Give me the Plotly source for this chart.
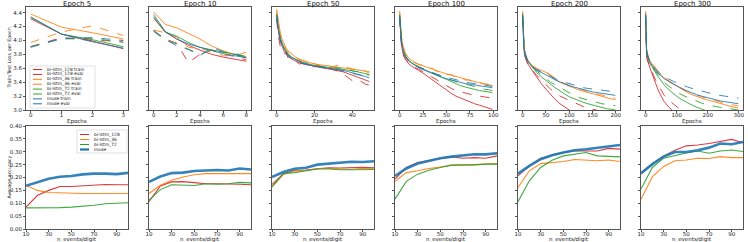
import plotly.graph_objects as go

W, H = 748, 242

# ---------------- data ----------------
epoch_titles = ["Epoch 5", "Epoch 10", "Epoch 50", "Epoch 100", "Epoch 200", "Epoch 300"]
series_names = ["bi-lstm_128", "bi-lstm_36", "bi-lstm_72", "inode"]
colors = {"bi-lstm_128": "#d62728", "bi-lstm_36": "#ff7f0e", "bi-lstm_72": "#2ca02c", "inode": "#1f77b4"}

# Top row: loss curves (train / eval) per run length
x_e5 = [0, 1, 2, 3]
e5 = {
    "bi-lstm_128": ([4.31, 4.09, 3.99, 3.88], [3.91, 4.04, 4.00, 3.99]),
    "bi-lstm_36": ([4.38, 4.19, 4.11, 4.02], [3.97, 4.12, 4.21, 4.07]),
    "bi-lstm_72": ([4.34, 4.09, 4.01, 3.91], [3.91, 4.02, 4.03, 3.97]),
    "inode": ([4.33, 4.09, 3.98, 3.89], [3.90, 4.03, 4.04, 4.00]),
}

x_e10 = [0, 1, 2, 3, 4, 5, 6, 7, 8]
e10 = {
    "bi-lstm_128": ([4.32, 4.12, 4.02, 3.93, 3.86, 3.80, 3.76, 3.73, 3.70],
                    [4.14, 4.02, 3.96, 3.68, 3.80, 3.86, 3.80, 3.77, 3.72]),
    "bi-lstm_36": ([4.41, 4.23, 4.18, 4.10, 4.02, 3.92, 3.85, 3.80, 3.77],
                   [4.15, 4.11, 4.05, 3.90, 3.88, 3.85, 3.78, 3.78, 3.83]),
    "bi-lstm_72": ([4.34, 4.12, 4.06, 3.97, 3.90, 3.86, 3.83, 3.80, 3.75],
                   [4.13, 4.00, 3.95, 3.88, 3.80, 3.86, 3.83, 3.82, 3.76]),
    "inode": ([4.37, 4.13, 4.02, 3.95, 3.90, 3.85, 3.81, 3.78, 3.75],
              [4.14, 4.02, 3.92, 3.87, 3.78, 3.90, 3.84, 3.80, 3.76]),
}

x_e50 = [0, 1, 2, 3, 4, 5, 6, 8, 10, 12, 14, 16, 18, 20, 23, 26, 29, 32, 35, 38, 41, 44, 47, 49]
e50 = {
    "bi-lstm_128": ([4.36, 4.12, 3.98, 3.90, 3.84, 3.80, 3.77, 3.73, 3.70, 3.68, 3.66, 3.65, 3.63, 3.62, 3.61, 3.60, 3.58, 3.57, 3.55, 3.52, 3.49, 3.46, 3.43, 3.41],
                    [4.30, 4.05, 3.90, 3.85, 3.80, 3.83, 3.75, 3.74, 3.71, 3.66, 3.68, 3.64, 3.65, 3.62, 3.63, 3.59, 3.60, 3.56, 3.52, 3.46, 3.40, 3.42, 3.37, 3.36]),
    "bi-lstm_36": ([4.45, 4.24, 4.10, 4.01, 3.94, 3.89, 3.85, 3.80, 3.76, 3.73, 3.71, 3.69, 3.68, 3.66, 3.65, 3.64, 3.63, 3.62, 3.61, 3.60, 3.59, 3.58, 3.56, 3.55],
                   [4.42, 4.20, 4.08, 3.98, 3.93, 3.86, 3.84, 3.78, 3.75, 3.72, 3.70, 3.70, 3.66, 3.67, 3.63, 3.66, 3.62, 3.64, 3.60, 3.61, 3.58, 3.59, 3.55, 3.53]),
    "bi-lstm_72": ([4.38, 4.16, 4.03, 3.95, 3.89, 3.85, 3.81, 3.76, 3.73, 3.70, 3.68, 3.67, 3.65, 3.64, 3.63, 3.62, 3.61, 3.60, 3.59, 3.58, 3.56, 3.54, 3.52, 3.51],
                   [4.35, 4.13, 4.02, 3.93, 3.86, 3.84, 3.80, 3.75, 3.72, 3.71, 3.67, 3.68, 3.64, 3.65, 3.62, 3.63, 3.60, 3.61, 3.58, 3.59, 3.55, 3.56, 3.51, 3.50]),
    "inode": ([4.37, 4.14, 4.01, 3.93, 3.87, 3.83, 3.79, 3.75, 3.72, 3.69, 3.67, 3.66, 3.64, 3.63, 3.62, 3.61, 3.60, 3.59, 3.57, 3.55, 3.53, 3.51, 3.48, 3.46],
              [4.32, 4.10, 3.99, 3.91, 3.85, 3.82, 3.78, 3.74, 3.71, 3.69, 3.67, 3.65, 3.64, 3.62, 3.62, 3.60, 3.60, 3.58, 3.56, 3.55, 3.52, 3.51, 3.48, 3.47]),
}

x_e100 = [0, 1, 2, 3, 4, 6, 8, 10, 13, 16, 20, 25, 30, 35, 40, 45, 50, 55, 60, 65, 70, 75, 80, 85, 90, 95, 99]
e100 = {
    "bi-lstm_128": ([4.35, 4.08, 3.93, 3.85, 3.79, 3.73, 3.69, 3.66, 3.63, 3.60, 3.57, 3.53, 3.48, 3.43, 3.38, 3.33, 3.28, 3.24, 3.20, 3.17, 3.14, 3.11, 3.09, 3.07, 3.05, 3.03, 3.01],
                    [4.31, 4.05, 3.92, 3.84, 3.79, 3.74, 3.70, 3.67, 3.64, 3.61, 3.59, 3.55, 3.51, 3.46, 3.42, 3.38, 3.34, 3.31, 3.28, 3.26, 3.24, 3.22, 3.21, 3.20, 3.19, 3.18, 3.17]),
    "bi-lstm_36": ([4.42, 4.20, 4.05, 3.96, 3.90, 3.82, 3.78, 3.74, 3.71, 3.68, 3.66, 3.63, 3.61, 3.59, 3.56, 3.54, 3.52, 3.50, 3.48, 3.46, 3.44, 3.42, 3.40, 3.39, 3.38, 3.36, 3.35],
                   [4.40, 4.18, 4.04, 3.95, 3.88, 3.81, 3.77, 3.74, 3.70, 3.69, 3.65, 3.64, 3.60, 3.60, 3.55, 3.55, 3.51, 3.51, 3.47, 3.47, 3.43, 3.43, 3.39, 3.40, 3.37, 3.37, 3.34]),
    "bi-lstm_72": ([4.37, 4.13, 3.99, 3.91, 3.85, 3.78, 3.74, 3.71, 3.68, 3.65, 3.62, 3.59, 3.56, 3.52, 3.49, 3.46, 3.43, 3.40, 3.38, 3.35, 3.33, 3.31, 3.29, 3.28, 3.27, 3.26, 3.25],
                   [4.34, 4.11, 3.98, 3.90, 3.84, 3.78, 3.74, 3.71, 3.68, 3.66, 3.62, 3.60, 3.57, 3.54, 3.51, 3.48, 3.46, 3.43, 3.41, 3.39, 3.37, 3.35, 3.33, 3.32, 3.30, 3.29, 3.28]),
    "inode": ([4.36, 4.12, 3.98, 3.90, 3.84, 3.77, 3.73, 3.70, 3.67, 3.64, 3.61, 3.58, 3.55, 3.52, 3.49, 3.47, 3.45, 3.43, 3.41, 3.40, 3.38, 3.37, 3.36, 3.35, 3.34, 3.33, 3.32],
              [4.33, 4.10, 3.97, 3.89, 3.83, 3.77, 3.73, 3.70, 3.67, 3.64, 3.62, 3.59, 3.56, 3.54, 3.51, 3.49, 3.47, 3.45, 3.43, 3.42, 3.40, 3.39, 3.38, 3.37, 3.36, 3.35, 3.34]),
}

x_e200 = [0, 1, 2, 3, 5, 7, 10, 13, 16, 20, 25, 30, 40, 50, 60, 70, 80, 90, 100, 110, 120, 130, 140, 150, 160, 170, 180, 190, 199]
e200 = {
    "bi-lstm_128": ([4.33, 4.06, 3.92, 3.85, 3.77, 3.72, 3.68, 3.64, 3.61, 3.57, 3.52, 3.47, 3.38, 3.30, 3.22, 3.15, 3.09, 3.04, 3.00, 2.96, 2.93, 2.90, 2.87, 2.85, 2.83, 2.81, 2.79, 2.77, 2.76],
                    [4.30, 4.04, 3.91, 3.84, 3.77, 3.72, 3.68, 3.65, 3.62, 3.58, 3.54, 3.50, 3.43, 3.36, 3.30, 3.25, 3.20, 3.17, 3.14, 3.10, 3.07, 3.05, 3.03, 3.01, 2.99, 2.97, 2.96, 2.95, 2.94]),
    "bi-lstm_36": ([4.42, 4.15, 4.00, 3.92, 3.83, 3.78, 3.73, 3.70, 3.67, 3.64, 3.61, 3.59, 3.57, 3.54, 3.49, 3.44, 3.40, 3.37, 3.34, 3.31, 3.29, 3.27, 3.25, 3.23, 3.21, 3.19, 3.18, 3.16, 3.15],
                   [4.40, 4.14, 3.99, 3.92, 3.82, 3.78, 3.73, 3.71, 3.68, 3.64, 3.62, 3.60, 3.56, 3.55, 3.50, 3.45, 3.41, 3.38, 3.35, 3.33, 3.31, 3.28, 3.26, 3.25, 3.23, 3.21, 3.20, 3.18, 3.17]),
    "bi-lstm_72": ([4.37, 4.11, 3.96, 3.89, 3.80, 3.75, 3.71, 3.68, 3.65, 3.62, 3.58, 3.54, 3.48, 3.42, 3.37, 3.32, 3.27, 3.23, 3.19, 3.16, 3.13, 3.11, 3.09, 3.07, 3.05, 3.04, 3.02, 3.01, 3.00],
                   [4.34, 4.09, 3.95, 3.88, 3.80, 3.75, 3.71, 3.68, 3.65, 3.62, 3.59, 3.56, 3.50, 3.45, 3.40, 3.36, 3.32, 3.28, 3.24, 3.21, 3.18, 3.16, 3.14, 3.12, 3.11, 3.09, 3.08, 3.07, 3.06]),
    "inode": ([4.38, 4.12, 3.97, 3.90, 3.81, 3.76, 3.72, 3.69, 3.66, 3.63, 3.60, 3.57, 3.54, 3.51, 3.47, 3.43, 3.40, 3.37, 3.35, 3.33, 3.31, 3.29, 3.28, 3.26, 3.25, 3.24, 3.23, 3.22, 3.21],
              [4.35, 4.10, 3.96, 3.89, 3.81, 3.76, 3.72, 3.69, 3.66, 3.63, 3.60, 3.58, 3.55, 3.52, 3.48, 3.45, 3.42, 3.40, 3.37, 3.35, 3.34, 3.32, 3.31, 3.30, 3.29, 3.28, 3.27, 3.27, 3.26]),
}

x_e300 = [0, 1, 2, 3, 5, 7, 10, 15, 20, 25, 30, 40, 50, 60, 75, 90, 105, 120, 135, 150, 165, 180, 195, 210, 225, 240, 255, 270, 285, 299]
e300 = {
    "bi-lstm_128": ([4.33, 4.00, 3.86, 3.79, 3.73, 3.69, 3.66, 3.59, 3.53, 3.46, 3.40, 3.29, 3.20, 3.12, 3.04, 2.97, 2.92, 2.88, 2.85, 2.82, 2.80, 2.78, 2.76, 2.74, 2.73, 2.72, 2.71, 2.70, 2.69, 2.68],
                    [4.30, 3.99, 3.86, 3.79, 3.73, 3.70, 3.67, 3.61, 3.56, 3.50, 3.45, 3.36, 3.28, 3.21, 3.14, 3.08, 3.03, 2.99, 2.96, 2.93, 2.91, 2.89, 2.87, 2.85, 2.84, 2.83, 2.82, 2.81, 2.80, 2.79]),
    "bi-lstm_36": ([4.42, 4.10, 3.96, 3.88, 3.82, 3.78, 3.75, 3.70, 3.66, 3.63, 3.60, 3.55, 3.50, 3.46, 3.41, 3.37, 3.32, 3.28, 3.25, 3.22, 3.19, 3.17, 3.15, 3.13, 3.11, 3.09, 3.07, 3.06, 3.04, 3.03],
                   [4.40, 4.08, 3.95, 3.88, 3.82, 3.78, 3.75, 3.70, 3.67, 3.64, 3.61, 3.56, 3.51, 3.47, 3.42, 3.38, 3.34, 3.30, 3.27, 3.24, 3.21, 3.19, 3.17, 3.15, 3.13, 3.11, 3.10, 3.08, 3.07, 3.06]),
    "bi-lstm_72": ([4.37, 4.05, 3.92, 3.85, 3.79, 3.75, 3.72, 3.66, 3.62, 3.58, 3.55, 3.48, 3.42, 3.36, 3.29, 3.23, 3.18, 3.14, 3.10, 3.07, 3.04, 3.01, 2.99, 2.97, 2.95, 2.93, 2.91, 2.90, 2.89, 2.88],
                   [4.35, 4.04, 3.92, 3.85, 3.79, 3.75, 3.72, 3.67, 3.63, 3.60, 3.57, 3.51, 3.45, 3.40, 3.34, 3.29, 3.25, 3.21, 3.18, 3.15, 3.12, 3.10, 3.08, 3.06, 3.05, 3.04, 3.03, 3.02, 3.01, 3.00]),
    "inode": ([4.38, 4.06, 3.93, 3.86, 3.80, 3.76, 3.73, 3.68, 3.64, 3.61, 3.58, 3.53, 3.49, 3.45, 3.41, 3.37, 3.33, 3.30, 3.27, 3.24, 3.22, 3.20, 3.18, 3.16, 3.15, 3.13, 3.12, 3.11, 3.10, 3.09],
              [4.36, 4.05, 3.92, 3.86, 3.80, 3.77, 3.74, 3.69, 3.65, 3.62, 3.60, 3.55, 3.51, 3.48, 3.44, 3.41, 3.38, 3.35, 3.33, 3.31, 3.29, 3.27, 3.25, 3.24, 3.22, 3.21, 3.20, 3.19, 3.18, 3.17]),
}

top_x = [x_e5, x_e10, x_e50, x_e100, x_e200, x_e300]
top_data = [e5, e10, e50, e100, e200, e300]
top_xticks = [[0, 1, 2, 3], [0, 2, 4, 6, 8], [0, 20, 40], [0, 25, 50, 75, 100], [0, 50, 100, 150, 200], [0, 100, 200, 300]]
top_xmax = [3, 8, 49, 99, 199, 299]

# Bottom row: average accuracy vs n_events/digit
n_events = [10, 20, 30, 40, 50, 60, 70, 80, 90, 100]
acc = [
    {"bi-lstm_128": [0.085, 0.13, 0.15, 0.165, 0.165, 0.168, 0.17, 0.173, 0.172, 0.172],
     "bi-lstm_36": [0.17, 0.15, 0.142, 0.14, 0.138, 0.138, 0.138, 0.138, 0.138, 0.138],
     "bi-lstm_72": [0.082, 0.082, 0.082, 0.083, 0.085, 0.088, 0.092, 0.098, 0.100, 0.102],
     "inode": [0.168, 0.183, 0.195, 0.203, 0.206, 0.212, 0.215, 0.215, 0.213, 0.218]},
    {"bi-lstm_128": [0.106, 0.167, 0.183, 0.184, 0.180, 0.176, 0.176, 0.176, 0.174, 0.172],
     "bi-lstm_36": [0.138, 0.170, 0.189, 0.202, 0.211, 0.215, 0.215, 0.215, 0.214, 0.215],
     "bi-lstm_72": [0.112, 0.153, 0.172, 0.170, 0.169, 0.176, 0.174, 0.176, 0.181, 0.179],
     "inode": [0.183, 0.204, 0.217, 0.219, 0.225, 0.227, 0.229, 0.227, 0.235, 0.231]},
    {"bi-lstm_128": [0.173, 0.215, 0.227, 0.229, 0.234, 0.238, 0.237, 0.239, 0.240, 0.238],
     "bi-lstm_36": [0.164, 0.212, 0.225, 0.227, 0.234, 0.236, 0.234, 0.232, 0.236, 0.234],
     "bi-lstm_72": [0.164, 0.215, 0.219, 0.225, 0.233, 0.233, 0.230, 0.230, 0.231, 0.231],
     "inode": [0.202, 0.221, 0.234, 0.238, 0.250, 0.253, 0.256, 0.261, 0.260, 0.263]},
    {"bi-lstm_128": [0.194, 0.239, 0.258, 0.267, 0.274, 0.280, 0.275, 0.277, 0.275, 0.284],
     "bi-lstm_36": [0.185, 0.219, 0.226, 0.235, 0.241, 0.248, 0.248, 0.249, 0.252, 0.254],
     "bi-lstm_72": [0.116, 0.185, 0.213, 0.228, 0.239, 0.248, 0.249, 0.249, 0.252, 0.252],
     "inode": [0.206, 0.235, 0.254, 0.265, 0.275, 0.281, 0.286, 0.290, 0.290, 0.294]},
    {"bi-lstm_128": [0.206, 0.245, 0.275, 0.286, 0.297, 0.303, 0.303, 0.303, 0.313, 0.310],
     "bi-lstm_36": [0.161, 0.226, 0.254, 0.258, 0.262, 0.270, 0.267, 0.265, 0.268, 0.262],
     "bi-lstm_72": [0.106, 0.187, 0.239, 0.267, 0.284, 0.290, 0.297, 0.284, 0.281, 0.280],
     "inode": [0.215, 0.245, 0.271, 0.286, 0.297, 0.306, 0.310, 0.316, 0.320, 0.326]},
    {"bi-lstm_128": [0.213, 0.252, 0.284, 0.306, 0.323, 0.326, 0.332, 0.339, 0.348, 0.335],
     "bi-lstm_36": [0.116, 0.203, 0.243, 0.265, 0.268, 0.275, 0.274, 0.281, 0.277, 0.277],
     "bi-lstm_72": [0.155, 0.239, 0.275, 0.286, 0.295, 0.303, 0.294, 0.303, 0.307, 0.301],
     "inode": [0.217, 0.252, 0.281, 0.299, 0.299, 0.306, 0.316, 0.332, 0.329, 0.338]},
]
acc_xticks = [10, 30, 50, 70, 90]
loss_yticks = [3.0, 3.2, 3.4, 3.6, 3.8, 4.0, 4.2, 4.4]
acc_yticks = [0.00, 0.05, 0.10, 0.15, 0.20, 0.25, 0.30, 0.35, 0.40]

# ---------------- layout helpers ----------------
FONT = "DejaVu Sans"
TXT = "#222222"
col_left = [26 + 123 * i for i in range(6)]
PW = 102
TOP = (7, 110)
BOT = (126, 229)
AXC = "#555555"


def xdom(i):
    return [col_left[i] / W, (col_left[i] + PW) / W]


def ydom(r):
    return [1 - r[1] / H, 1 - r[0] / H]


def px(x):
    return x / W


def py(y):
    return 1 - y / H


fig = go.Figure()
layout = {}

for c in range(6):
    n_top = c + 1
    n_bot = c + 7
    xt = "x" if n_top == 1 else f"x{n_top}"
    yt = "y" if n_top == 1 else f"y{n_top}"
    xb, yb = f"x{n_bot}", f"y{n_bot}"

    xm = top_xmax[c]
    pad = xm * 0.05
    common = dict(showline=True, mirror=True, linecolor=AXC, linewidth=1, showgrid=False,
                  zeroline=False, ticks="outside", ticklen=2, tickwidth=0.8, tickcolor=AXC,
                  automargin=False, tickfont=dict(size=5.5, family=FONT, color=TXT))
    layout["xaxis" if n_top == 1 else f"xaxis{n_top}"] = dict(
        common, domain=xdom(c), anchor=yt, range=[-pad, xm + pad], tickvals=top_xticks[c],
        ticklabelstandoff=-3)
    layout["yaxis" if n_top == 1 else f"yaxis{n_top}"] = dict(
        common, domain=ydom(TOP), anchor=xt, range=[3.0, 4.48], tickvals=loss_yticks,
        tickformat=".1f", showticklabels=(c == 0))
    layout[f"xaxis{n_bot}"] = dict(
        common, domain=xdom(c), anchor=yb, range=[10, 100], tickvals=acc_xticks,
        ticklabelstandoff=-3)
    layout[f"yaxis{n_bot}"] = dict(
        common, domain=ydom(BOT), anchor=xb, range=[0, 0.40], tickvals=acc_yticks,
        tickformat=".2f", showticklabels=(c == 0))

    for name in series_names:
        tr, ev = top_data[c][name]
        for kind, vals, dash in (("train", tr, "solid"), ("eval", ev, "dash")):
            fig.add_trace(go.Scatter(
                x=top_x[c], y=vals, mode="lines", name=f"{name} {kind}",
                line=dict(color=colors[name], width=1, dash=dash), opacity=0.85,
                xaxis=xt, yaxis=yt, showlegend=False))
    for name in series_names:
        fig.add_trace(go.Scatter(
            x=n_events, y=acc[c][name], mode="lines", name=name,
            line=dict(color=colors[name], width=2.6 if name == "inode" else 1.1),
            opacity=0.9, xaxis=xb, yaxis=yb, showlegend=False))

annotations = []
shapes = []


def text(t, x, y, size, anchor="center", angle=0, color=TXT):
    annotations.append(dict(text=t, x=px(x), y=py(y), xref="paper", yref="paper", showarrow=False,
                            xanchor=anchor, yanchor="middle", textangle=angle,
                            font=dict(size=size, family=FONT, color=color)))


for c in range(6):
    cx = col_left[c] + PW / 2
    text(epoch_titles[c], cx, 3.5, 7, color="#111")
    text("Epochs", cx, 121, 5.5)
    text("n_events/digit", cx, 239.8, 5.5)
text("Train/Test Loss per Epoch", 9, (TOP[0] + TOP[1]) / 2, 4.8, angle=-90)
text("Average accuracy", 9, (BOT[0] + BOT[1]) / 2, 4.8, angle=-90)


# manual legends (matplotlib-style boxes)
def legend(entries, x0, y0, x1, y1, step, first):
    shapes.append(dict(type="rect", xref="paper", yref="paper", x0=px(x0), x1=px(x1), y0=py(y1), y1=py(y0),
                       fillcolor="rgba(255,255,255,0.85)", line=dict(color="#cccccc", width=0.6), layer="above"))
    for i, (label, col, dash, wd) in enumerate(entries):
        yy = first + i * step
        shapes.append(dict(type="line", xref="paper", yref="paper", x0=px(x0 + 3), x1=px(x0 + 12),
                           y0=py(yy), y1=py(yy), line=dict(color=col, width=wd, dash=dash), layer="above"))
        annotations.append(dict(text=label, x=px(x0 + 15), y=py(yy), xref="paper", yref="paper",
                                showarrow=False, xanchor="left", yanchor="middle",
                                font=dict(size=4.4, family=FONT, color=TXT)))


top_entries = []
for name in series_names:
    top_entries.append((f"{name} train", colors[name], "solid", 1))
    top_entries.append((f"{name} eval", colors[name], "dash", 1))
legend(top_entries, 30, 66, 95, 108, 4.9, 69.5)
bot_entries = [(n, colors[n], "solid", 2.2 if n == "inode" else 1) for n in series_names]
legend(bot_entries, 77, 130, 127, 153, 5, 134.5)

fig.update_layout(
    **layout,
    template="none",
    width=W, height=H,
    margin=dict(l=0, r=0, t=0, b=0, autoexpand=False),
    paper_bgcolor="white", plot_bgcolor="white",
    font=dict(family=FONT),
    showlegend=False,
    hovermode=False,
    annotations=annotations,
    shapes=shapes,
)

fig.write_html("out.html", config={"displayModeBar": False},
               post_script="document.body.style.margin='0';document.body.style.overflow='hidden';")
